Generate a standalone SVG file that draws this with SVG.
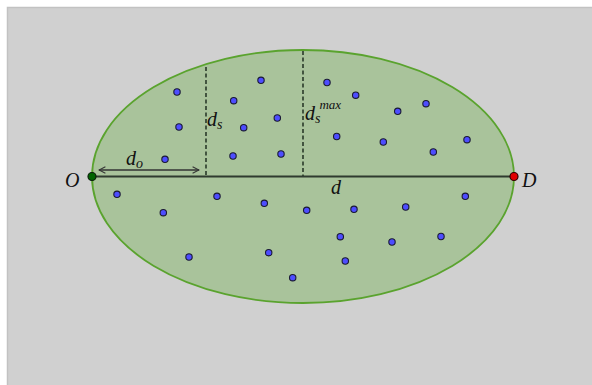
<svg xmlns="http://www.w3.org/2000/svg" width="592" height="385" viewBox="0 0 592 385">
<style>
.pt{fill:#4d4dff;stroke:#1a1a33;stroke-width:1.1}
.lbl{font-family:"Liberation Serif","DejaVu Serif",serif;font-style:italic;fill:#111}
.dash{stroke:#2a3a2a;stroke-width:1.6;stroke-dasharray:4,2.5;fill:none}
</style>
<defs>
<marker id="ah" viewBox="0 0 10 10" refX="9" refY="5" markerWidth="8" markerHeight="8" orient="auto-start-reverse" markerUnits="userSpaceOnUse">
<path d="M1,1 L9,5 L1,9" fill="none" stroke="#333" stroke-width="1.3"/>
</marker>
</defs>
<rect x="0" y="0" width="592" height="385" fill="#fff"/>
<rect x="7" y="7" width="585" height="378" fill="#d0d0d0"/>
<path d="M7.5,385 V7.5 H592" fill="none" stroke="#c2c2c2" stroke-width="1.5"/>
<g id="region">
<ellipse cx="303" cy="176.5" rx="211" ry="126.5" fill="#a9c39b" stroke="#5aa32e" stroke-width="1.8"/>
</g>
<g id="connectors">
<line x1="92" y1="176.5" x2="514" y2="176.5" stroke="#2f3a2f" stroke-width="1.8"/>
<line x1="206" y1="67" x2="206" y2="176" class="dash"/>
<line x1="303" y1="51" x2="303" y2="176" class="dash"/>
<line x1="99" y1="170" x2="199" y2="170" stroke="#333" stroke-width="1.3" marker-start="url(#ah)" marker-end="url(#ah)"/>
</g>
<g id="points">
<circle class="pt" cx="177" cy="92" r="3.2"/>
<circle class="pt" cx="261" cy="80.3" r="3.2"/>
<circle class="pt" cx="327" cy="82.5" r="3.2"/>
<circle class="pt" cx="355.7" cy="95.2" r="3.2"/>
<circle class="pt" cx="233.7" cy="100.7" r="3.2"/>
<circle class="pt" cx="426" cy="103.7" r="3.2"/>
<circle class="pt" cx="397.7" cy="111.3" r="3.2"/>
<circle class="pt" cx="277.3" cy="118" r="3.2"/>
<circle class="pt" cx="179" cy="127" r="3.2"/>
<circle class="pt" cx="243.7" cy="127.7" r="3.2"/>
<circle class="pt" cx="336.7" cy="136.5" r="3.2"/>
<circle class="pt" cx="383.3" cy="142" r="3.2"/>
<circle class="pt" cx="467" cy="139.7" r="3.2"/>
<circle class="pt" cx="165" cy="159.3" r="3.2"/>
<circle class="pt" cx="233" cy="156" r="3.2"/>
<circle class="pt" cx="281" cy="154" r="3.2"/>
<circle class="pt" cx="433.3" cy="152" r="3.2"/>
<circle class="pt" cx="117" cy="194.3" r="3.2"/>
<circle class="pt" cx="163.3" cy="212.7" r="3.2"/>
<circle class="pt" cx="217" cy="196.3" r="3.2"/>
<circle class="pt" cx="264.3" cy="203.3" r="3.2"/>
<circle class="pt" cx="306.7" cy="210.3" r="3.2"/>
<circle class="pt" cx="354" cy="209.3" r="3.2"/>
<circle class="pt" cx="405.7" cy="207" r="3.2"/>
<circle class="pt" cx="465.3" cy="196.3" r="3.2"/>
<circle class="pt" cx="340.3" cy="236.7" r="3.2"/>
<circle class="pt" cx="392" cy="242" r="3.2"/>
<circle class="pt" cx="441" cy="236.5" r="3.2"/>
<circle class="pt" cx="189" cy="257" r="3.2"/>
<circle class="pt" cx="268.7" cy="252.7" r="3.2"/>
<circle class="pt" cx="345.3" cy="261" r="3.2"/>
<circle class="pt" cx="292.7" cy="277.7" r="3.2"/>
</g>
<g id="O">
<circle cx="92" cy="176.5" r="4" fill="#006400" stroke="#0a200a" stroke-width="1.2"/>
<text class="lbl" x="65" y="187" font-size="20">O</text>
</g>
<g id="D">
<circle cx="514" cy="176.5" r="4" fill="#e00000" stroke="#300" stroke-width="1.2"/>
<text class="lbl" x="522" y="187" font-size="20">D</text>
</g>
<g id="labels">
<text class="lbl" x="126" y="165" font-size="20">d<tspan font-size="14" dy="3">o</tspan></text>
<text class="lbl" x="207" y="126" font-size="20">d<tspan font-size="14" dy="3">s</tspan></text>
<text class="lbl" x="305" y="120" font-size="20">d<tspan font-size="14" dy="3">s</tspan><tspan font-size="13" dx="-1" dy="-14">max</tspan></text>
<text class="lbl" x="331" y="194" font-size="20">d</text>
</g>
</svg>
